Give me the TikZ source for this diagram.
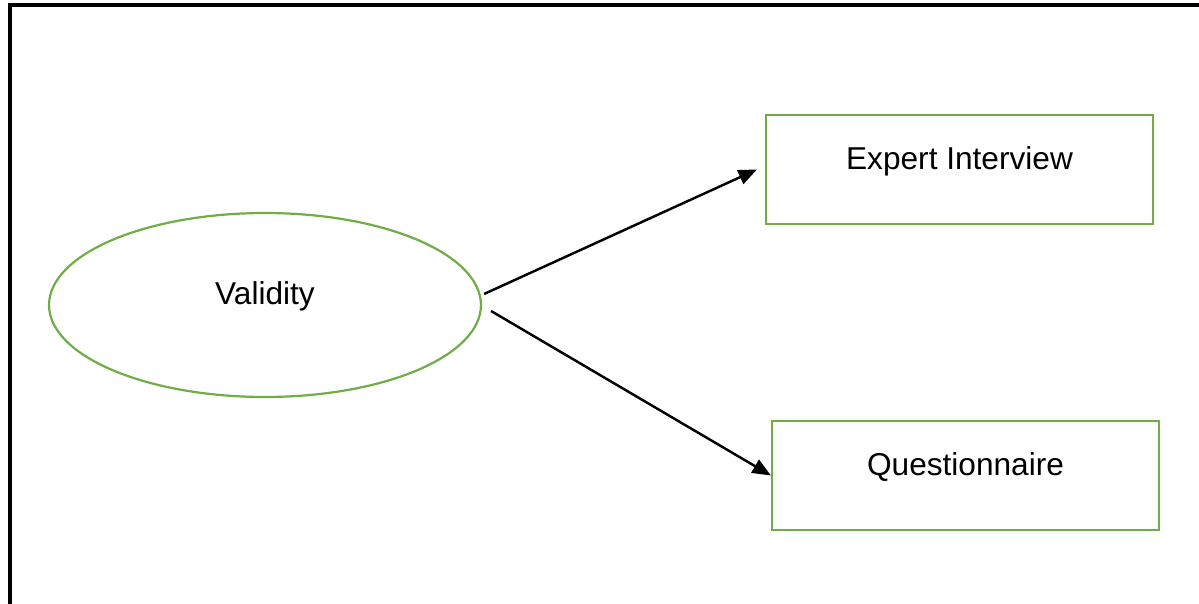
\documentclass[tikz,border=0pt]{standalone}
\usepackage{fontspec}
\setmainfont{Liberation Sans}
\usetikzlibrary{calc,shapes.geometric,arrows.meta}

\definecolor{leafgreen}{RGB}{112,173,71}

\begin{document}
\begin{tikzpicture}[x=0.02cm,y=-0.02cm,
  greenline/.style={draw=leafgreen,line width=1.25pt},
  boxnode/.style={greenline,rectangle,minimum width=7.74cm,minimum height=2.18cm,
    inner sep=0pt,font=\fontsize{18}{21}\selectfont,text height=12.9pt,text depth=12.6pt},
  arrowline/.style={line width=1.4pt,-{Triangle[length=10.5pt,width=8.5pt]}}]

\clip (0,0) rectangle (1199,604);

% 外框
\draw[line width=2pt] (10,5) rectangle (1260,660);

% 椭圆
\node[greenline,ellipse,minimum width=8.64cm,minimum height=3.68cm,inner sep=0pt,
  font=\fontsize{18}{21}\selectfont,text height=12.9pt,text depth=13.6pt]
  (val) at (265,305) {Validity};

% 方框
\node[boxnode] (expert) at (959.5,169.5) {Expert Interview};
\node[boxnode] (quest) at (965.5,475.5) {Questionnaire};

% 箭头
\draw[arrowline] ($(val.east)+(2,-11)$) -- ($(expert.west)+(-8,0)$);
\draw[arrowline] ($(val.east)+(9,6)$) -- (quest.west);

\end{tikzpicture}
\end{document}
